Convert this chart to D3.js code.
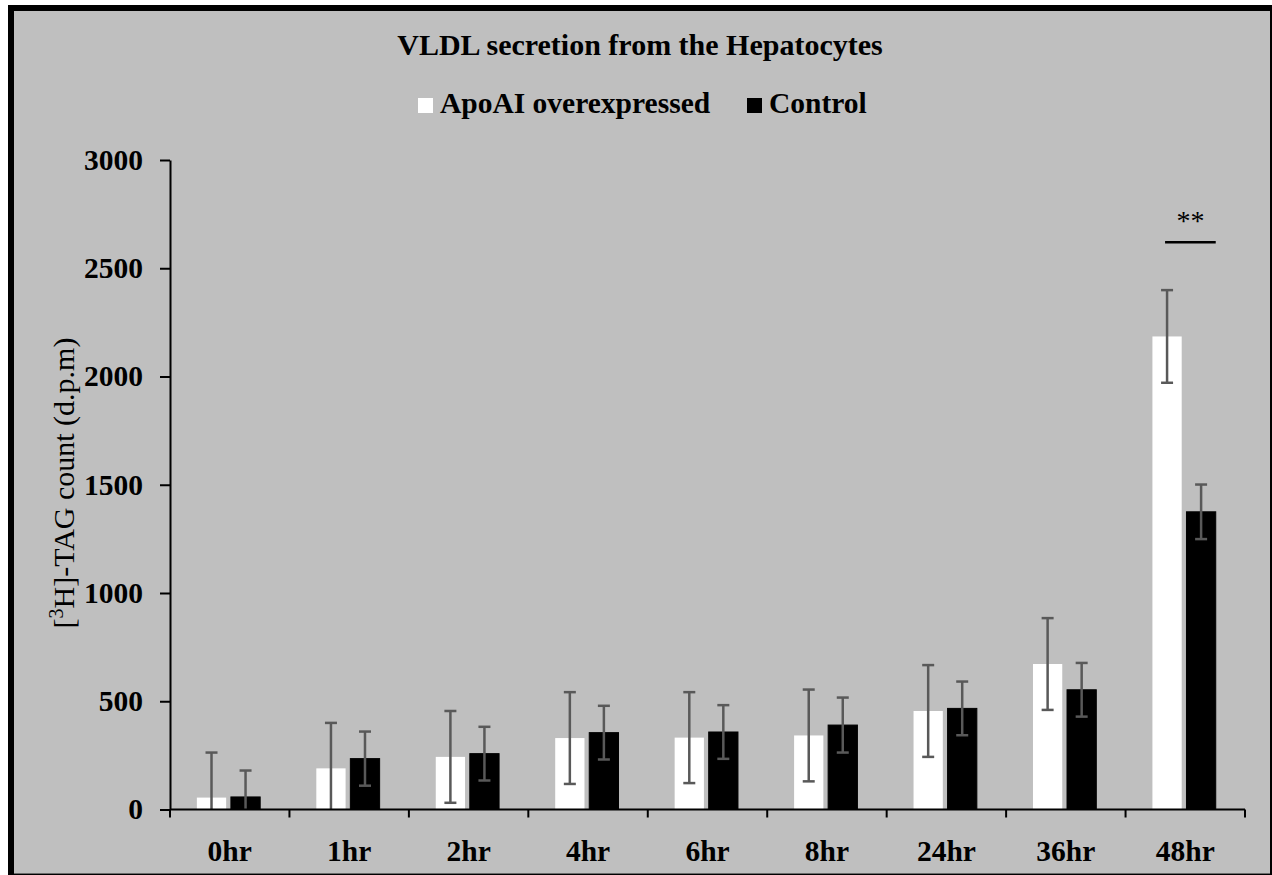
<!DOCTYPE html>
<html>
<head>
<meta charset="utf-8">
<script src="https://cdn.jsdelivr.net/npm/d3@7"></script>
<style>
  body { margin: 0; background: #fff; }
  svg { display: block; }
  text { font-family: "Liberation Serif", "Times New Roman", serif; }
</style>
</head>
<body>
<svg id="chart" width="1272" height="875"></svg>
<script>
// data
const categories = ["0hr", "1hr", "2hr", "4hr", "6hr", "8hr", "24hr", "36hr", "48hr"];
const seriesNames = ["ApoAI overexpressed", "Control"];
const apoValues = [55, 190, 243, 330, 332, 342, 455, 672, 2185];
const apoErrors = [208, 210, 212, 212, 210, 212, 212, 212, 214];
const controlValues = [58, 235, 258, 355, 358, 390, 467, 553, 1375];
const controlErrors = [122, 125, 124, 124, 124, 127, 124, 124, 126];
const yTicks = [0, 500, 1000, 1500, 2000, 2500, 3000];
const sigCategory = "48hr";
const sigLabel = "**";
const sigLevel = 2620;

const width = 1272, height = 875;
const fs = 29.5;
const svg = d3.select("#chart");

// frame
svg.append("rect").attr("x", 8).attr("y", 5).attr("width", width - 8).attr("height", height - 5).attr("fill", "#000");
svg.append("rect").attr("x", 14).attr("y", 11).attr("width", 1256).attr("height", 862).attr("fill", "#bfbfbf");
svg.append("line").attr("x1", 14).attr("x2", 1270).attr("y1", 873.5).attr("y2", 873.5).attr("stroke", "#6a6a6a");

const x = d3.scaleBand().domain(categories).range([170, 1245]).paddingInner(0).paddingOuter(0);
const bw = x.bandwidth();
const sub = d3.scaleBand().domain(seriesNames).range([bw * 0.225, bw * 0.755]).paddingInner(0.14);
const y = d3.scaleLinear().domain([0, 3000]).range([809.5, 160]);

const rows = categories.map((c, i) => ({
  cat: c,
  bars: [
    { key: seriesNames[0], value: apoValues[i], err: apoErrors[i], fill: "#fff" },
    { key: seriesNames[1], value: controlValues[i], err: controlErrors[i], fill: "#000" }
  ]
}));

// bars
const groups = svg.append("g").selectAll("g")
  .data(rows).enter().append("g")
  .attr("transform", d => `translate(${x(d.cat)},0)`);

groups.selectAll("rect")
  .data(d => d.bars).enter().append("rect")
  .attr("x", d => sub(d.key))
  .attr("y", d => y(d.value))
  .attr("width", sub.bandwidth())
  .attr("height", d => y(0) - y(d.value))
  .attr("fill", d => d.fill)
  .attr("stroke", d => d.fill === "#000" ? "#000" : "none")
  .attr("stroke-width", 1);

// error bars
const errColor = "#595959";
const eb = groups.selectAll("g.err")
  .data(d => d.bars).enter().append("g").attr("class", "err");
eb.append("line")
  .attr("x1", d => sub(d.key) + sub.bandwidth() / 2)
  .attr("x2", d => sub(d.key) + sub.bandwidth() / 2)
  .attr("y1", d => y(d.value + d.err))
  .attr("y2", d => y(Math.max(0, d.value - d.err)))
  .attr("stroke", errColor).attr("stroke-width", 2.5);
eb.append("line")
  .attr("x1", d => sub(d.key) + sub.bandwidth() / 2 - 6)
  .attr("x2", d => sub(d.key) + sub.bandwidth() / 2 + 6)
  .attr("y1", d => y(d.value + d.err))
  .attr("y2", d => y(d.value + d.err))
  .attr("stroke", errColor).attr("stroke-width", 2.5);
eb.filter(d => d.value - d.err > 0).append("line")
  .attr("x1", d => sub(d.key) + sub.bandwidth() / 2 - 6)
  .attr("x2", d => sub(d.key) + sub.bandwidth() / 2 + 6)
  .attr("y1", d => y(d.value - d.err))
  .attr("y2", d => y(d.value - d.err))
  .attr("stroke", errColor).attr("stroke-width", 2.5);

// y axis
const yAxis = svg.append("g")
  .attr("transform", "translate(170,0)")
  .call(d3.axisLeft(y).tickValues(yTicks).tickFormat(d3.format("d"))
    .tickSize(10).tickSizeOuter(0).tickPadding(17));
yAxis.select(".domain").attr("stroke", "#000").attr("stroke-width", 2);
yAxis.selectAll(".tick line").attr("stroke", "#000").attr("stroke-width", 2);
yAxis.selectAll(".tick text")
  .attr("font-weight", "bold").attr("font-size", fs).attr("fill", "#000");
svg.append("line").attr("x1", 170).attr("x2", 170).attr("y1", y(0)).attr("y2", y(0) + 7)
  .attr("stroke", "#000").attr("stroke-width", 2);

// x axis
const xAxis = svg.append("g")
  .attr("transform", `translate(0,${y(0)})`)
  .call(d3.axisBottom(x).tickSize(0).tickPadding(31));
xAxis.select(".domain").remove();
xAxis.selectAll(".tick text")
  .attr("font-weight", "bold").attr("font-size", fs).attr("fill", "#000");
xAxis.append("line").attr("x1", 170).attr("x2", 1245).attr("y1", 0).attr("y2", 0)
  .attr("stroke", "#000").attr("stroke-width", 2);
xAxis.selectAll("line.bt")
  .data(categories.map(c => x(c)).concat([x.range()[1]]))
  .enter().append("line").attr("class", "bt")
  .attr("x1", d => d).attr("x2", d => d).attr("y1", 0).attr("y2", 8)
  .attr("stroke", "#000").attr("stroke-width", 2);

// y title
svg.append("text")
  .attr("transform", "translate(74,483) rotate(-90)")
  .attr("text-anchor", "middle")
  .attr("font-size", 30).attr("fill", "#000")
  .call(t => {
    t.append("tspan").text("[");
    t.append("tspan").attr("baseline-shift", "super").attr("font-size", 20).text("3");
    t.append("tspan").text("H]-TAG count (d.p.m)");
  });

// title
svg.append("text")
  .attr("x", 640).attr("y", 55)
  .attr("text-anchor", "middle")
  .attr("font-size", fs + 0.5).attr("font-weight", "bold").attr("fill", "#000")
  .text("VLDL secretion from the Hepatocytes");

// legend
const legendPos = [418, 747];
const legend = svg.append("g").selectAll("g")
  .data(seriesNames).enter().append("g")
  .attr("transform", (d, i) => `translate(${legendPos[i]},98)`);
legend.append("rect")
  .attr("width", 15).attr("height", 15)
  .attr("fill", (d, i) => i === 0 ? "#fff" : "#000");
legend.append("text")
  .attr("x", 22).attr("y", 15)
  .attr("font-size", fs).attr("font-weight", "bold").attr("fill", "#000")
  .text(d => d);

// significance marker
const sx1 = x(sigCategory) + sub(seriesNames[0]) + sub.bandwidth() / 2 - 2;
const sx2 = x(sigCategory) + sub(seriesNames[1]) + sub.bandwidth();
svg.append("line")
  .attr("x1", sx1).attr("x2", sx2)
  .attr("y1", y(sigLevel)).attr("y2", y(sigLevel))
  .attr("stroke", "#000").attr("stroke-width", 2.5);
svg.append("text")
  .attr("x", (sx1 + sx2) / 2).attr("y", y(sigLevel) - 12)
  .attr("text-anchor", "middle")
  .attr("font-size", 28).attr("fill", "#000")
  .text(sigLabel);
</script>
</body>
</html>
